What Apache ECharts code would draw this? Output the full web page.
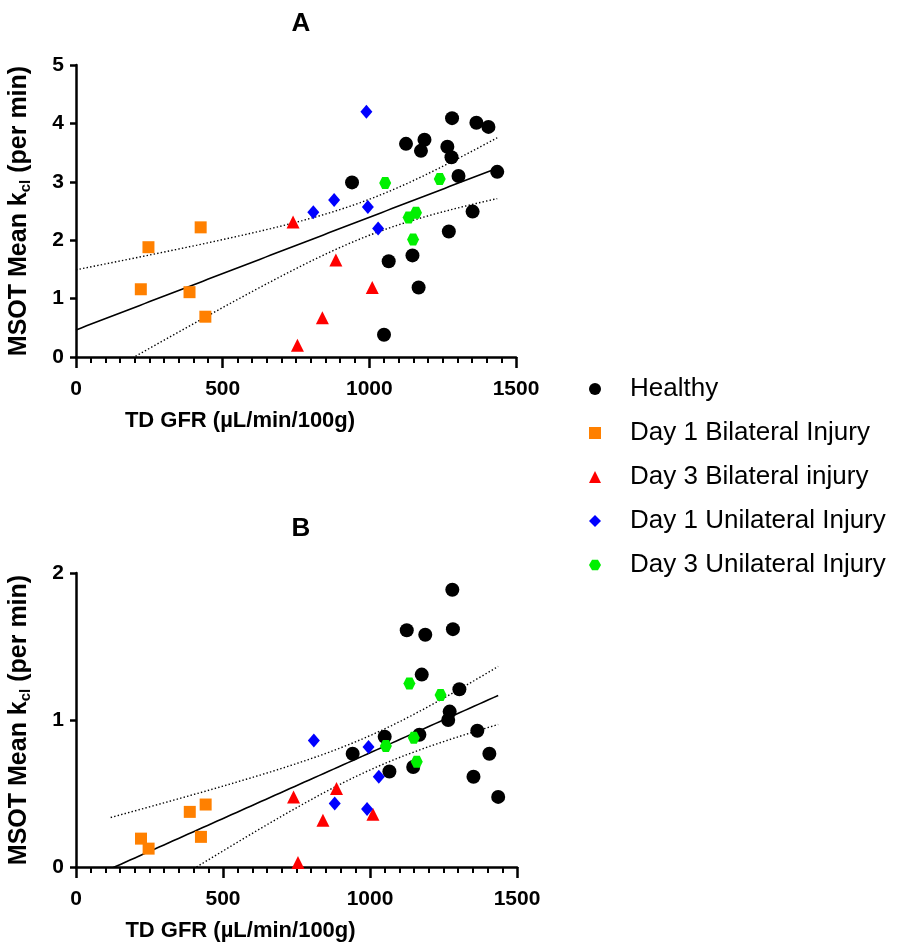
<!DOCTYPE html>
<html>
<head>
<meta charset="utf-8">
<script src="https://cdn.jsdelivr.net/npm/echarts@6/dist/echarts.min.js"></script>
<style>
  html, body { margin: 0; padding: 0; background: #ffffff; }
  #chart { width: 899px; height: 947px; }
</style>
</head>
<body>
<div id="chart"></div>
<script>
// Group names shown in the legend
const groupNames = ['Healthy', 'Day 1 Bilateral Injury', 'Day 3 Bilateral injury',
  'Day 1 Unilateral Injury', 'Day 3 Unilateral Injury'];

// TD GFR (µL/min/100g) per animal, shared by panels A and B
const healthyGfr = [941, 1050, 1066, 1125, 1147, 1168, 1176, 1188, 1266, 1271, 1280, 1282, 1304, 1352, 1365, 1406, 1436];
const d1BilatGfr = [221, 247, 387, 425, 441];
const d3BilatGfr = [740, 755, 840, 886, 1010];
const d1UnilatGfr = [809, 880, 990, 995, 1030];
const d3UnilatGfr = [1054, 1134, 1149, 1159, 1240];

// Panel A: MSOT mean k_cl (per min)
const healthyKclA = [2.99, 0.38, 1.64, 3.65, 1.74, 1.19, 3.53, 3.72, 3.60, 2.15, 3.42, 4.09, 3.10, 2.49, 4.01, 3.94, 3.17];
const d1BilatKclA = [1.16, 1.88, 1.11, 2.22, 0.69];
const d3BilatKclA = [2.31, 0.20, 0.67, 1.66, 1.19];
const d1UnilatKclA = [2.48, 2.69, 4.20, 2.57, 2.20];
const d3UnilatKclA = [2.98, 2.39, 2.01, 2.47, 3.05];

// Panel B: MSOT mean k_cl (per min)
const healthyKclB = [0.77, 0.886, 0.65, 1.611, 0.68, 0.90, 1.309, 1.58, 1.00, 1.057, 1.886, 1.618, 1.209, 0.614, 0.927, 0.77, 0.477];
const d1BilatKclB = [0.193, 0.125, 0.375, 0.205, 0.425];
const d3BilatKclB = [0.477, 0.03, 0.318, 0.534, 0.359];
const d1UnilatKclB = [0.861, 0.432, 0.395, 0.816, 0.614];
const d3UnilatKclB = [0.823, 1.248, 0.88, 0.716, 1.17];

// Axis ticks
const xTicks = [0, 500, 1000, 1500];
const yTicksA = [0, 1, 2, 3, 4, 5];
const yTicksB = [0, 1, 2];

// X range over which each fitted line and its 95% band are drawn
const fitRangeA = [0, 1436];
const fitRangeB = [118, 1436];

const gfrGroups = [healthyGfr, d1BilatGfr, d3BilatGfr, d1UnilatGfr, d3UnilatGfr];
const kclGroupsA = [healthyKclA, d1BilatKclA, d3BilatKclA, d1UnilatKclA, d3UnilatKclA];
const kclGroupsB = [healthyKclB, d1BilatKclB, d3BilatKclB, d1UnilatKclB, d3UnilatKclB];

const colors = ['#000000', '#FF8000', '#FF0000', '#0000FF', '#00F000'];
const symbols = ['circle', 'rect', 'triangle', 'diamond', 'path://M4,0 L12,0 L16,7 L12,14 L4,14 L0,7 Z'];
const symbolSizes = [14, 12, 13, [12, 14], 12];

// Ordinary least squares fit with a 95% confidence band for the mean
function linearFit(xs, ys, range) {
  const n = xs.length;
  const mx = xs.reduce((a, b) => a + b, 0) / n;
  const my = ys.reduce((a, b) => a + b, 0) / n;
  let sxx = 0, sxy = 0;
  for (let i = 0; i < n; i++) { sxx += (xs[i] - mx) ** 2; sxy += (xs[i] - mx) * (ys[i] - my); }
  const slope = sxy / sxx;
  const icpt = my - slope * mx;
  let ssr = 0;
  for (let i = 0; i < n; i++) ssr += (ys[i] - icpt - slope * xs[i]) ** 2;
  const s = Math.sqrt(ssr / (n - 2));
  const t = 2.030; // two-sided 95%, df = 35
  const line = [], upper = [], lower = [];
  const steps = 80;
  for (let k = 0; k <= steps; k++) {
    const x = range[0] + (range[1] - range[0]) * k / steps;
    const yh = icpt + slope * x;
    const h = t * s * Math.sqrt(1 / n + (x - mx) ** 2 / sxx);
    line.push([x, yh]); upper.push([x, yh + h]); lower.push([x, yh - h]);
  }
  return { line, upper, lower };
}

function flatten(groups) { return [].concat(...groups); }

const fitA = linearFit(flatten(gfrGroups), flatten(kclGroupsA), fitRangeA);
const fitB = linearFit(flatten(gfrGroups), flatten(kclGroupsB), fitRangeB);

const FONT = 'Liberation Sans, Arial, sans-serif';

function makeX(gridIndex) {
  return {
    type: 'value', gridIndex,
    min: xTicks[0], max: xTicks[xTicks.length - 1], interval: xTicks[1] - xTicks[0],
    axisLine: { show: true, onZero: false, lineStyle: { color: '#000', width: 2.5 } },
    axisTick: { show: true, length: 11, lineStyle: { color: '#000', width: 2.5 } },
    minorTick: { show: true, splitNumber: 10, length: 6, lineStyle: { color: '#000', width: 2 } },
    splitLine: { show: false }, minorSplitLine: { show: false },
    axisLabel: { color: '#000', fontSize: 21, fontWeight: 'bold', fontFamily: FONT, margin: 22,
      formatter: v => String(v) },
    name: 'TD GFR (µL/min/100g)', nameLocation: 'middle', nameGap: 53,
    nameTextStyle: { color: '#000', fontSize: 22, fontWeight: 'bold', fontFamily: FONT, padding: [0, 112, 0, 0] }
  };
}

function makeY(gridIndex, ticks) {
  return {
    type: 'value', gridIndex,
    min: ticks[0], max: ticks[ticks.length - 1], interval: ticks[1] - ticks[0],
    axisLine: { show: true, onZero: false, lineStyle: { color: '#000', width: 2.5 } },
    axisTick: { show: true, length: 6, lineStyle: { color: '#000', width: 2.5 } },
    splitLine: { show: false },
    axisLabel: { color: '#000', fontSize: 21, fontWeight: 'bold', fontFamily: FONT, margin: 12,
      formatter: v => String(v) },
    name: '{b|MSOT Mean k}{s|cl}{b| (per min)}', nameLocation: 'middle', nameGap: 43,
    nameTextStyle: {
      color: '#000', fontFamily: FONT,
      rich: {
        b: { fontSize: 25, fontWeight: 'bold', fontFamily: FONT, color: '#000', lineHeight: 28 },
        s: { fontSize: 15, fontWeight: 'bold', fontFamily: FONT, color: '#000', lineHeight: 15, verticalAlign: 'bottom' }
      }
    }
  };
}

const series = [];
[[kclGroupsA, 0], [kclGroupsB, 1]].forEach(([groups, gi]) => {
  groups.forEach((ys, g) => {
    series.push({
      name: groupNames[g], type: 'scatter', xAxisIndex: gi, yAxisIndex: gi,
      symbol: symbols[g], symbolSize: symbolSizes[g],
      itemStyle: { color: colors[g], opacity: 1 },
      data: gfrGroups[g].map((x, i) => [x, ys[i]]),
      z: 3
    });
  });
});

[[fitA, 0], [fitB, 1]].forEach(([fit, gi]) => {
  series.push({ name: 'fit' + gi, type: 'line', xAxisIndex: gi, yAxisIndex: gi, data: fit.line,
    symbol: 'none', silent: true, clip: true, lineStyle: { color: '#000', width: 1.6 }, z: 2 });
  series.push({ name: 'upper' + gi, type: 'line', xAxisIndex: gi, yAxisIndex: gi, data: fit.upper,
    symbol: 'none', silent: true, clip: true, lineStyle: { color: '#000', width: 1.4, type: [1.4, 2.2] }, z: 2 });
  series.push({ name: 'lower' + gi, type: 'line', xAxisIndex: gi, yAxisIndex: gi, data: fit.lower,
    symbol: 'none', silent: true, clip: true, lineStyle: { color: '#000', width: 1.4, type: [1.4, 2.2] }, z: 2 });
});

const chart = echarts.init(document.getElementById('chart'), null, { renderer: 'canvas' });
chart.setOption({
  animation: false,
  backgroundColor: '#ffffff',
  title: [
    { text: 'A', left: 296, top: 6, textAlign: 'center',
      textStyle: { fontSize: 26, fontWeight: 'bold', fontFamily: FONT, color: '#000' } },
    { text: 'B', left: 296, top: 511, textAlign: 'center',
      textStyle: { fontSize: 26, fontWeight: 'bold', fontFamily: FONT, color: '#000' } }
  ],
  grid: [
    { left: 76, top: 65, width: 440, height: 292 },
    { left: 76, top: 573, width: 441, height: 294 }
  ],
  xAxis: [makeX(0), makeX(1)],
  yAxis: [makeY(0, yTicksA), makeY(1, yTicksB)],
  legend: {
    data: groupNames, orient: 'vertical', left: 584, top: 371,
    itemWidth: 12, itemHeight: 12, itemGap: 18,
    textStyle: { fontSize: 26, fontFamily: FONT, color: '#000', padding: [0, 0, 0, 24] },
    selectedMode: false
  },
  series
});
</script>
</body>
</html>
